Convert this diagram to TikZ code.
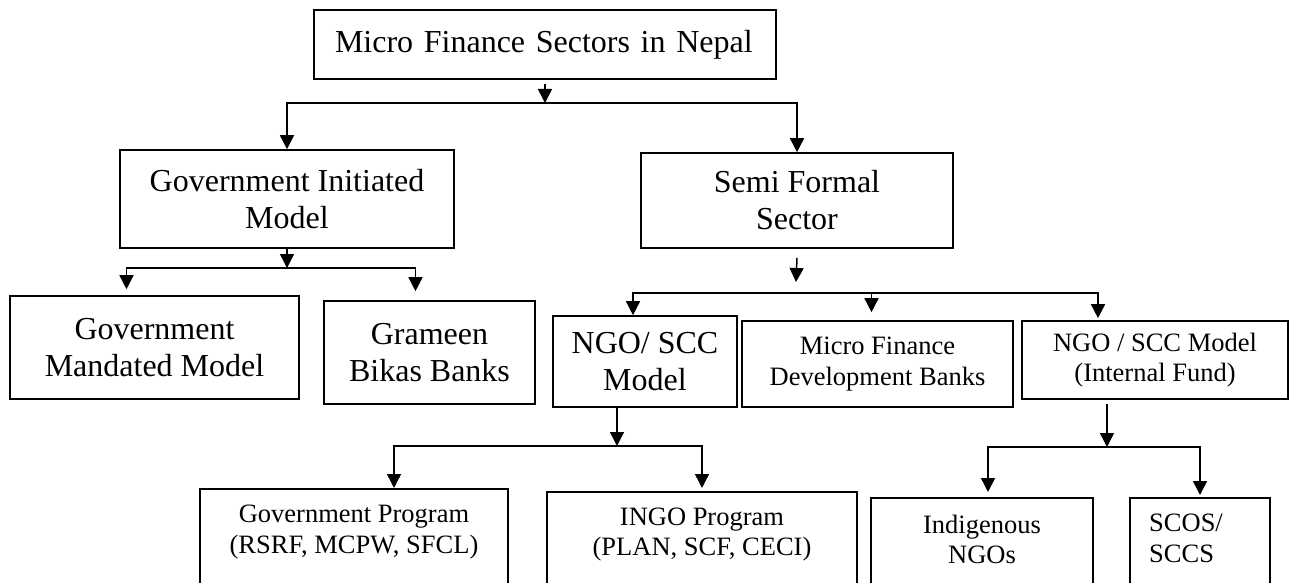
\documentclass[tikz,border=0pt]{standalone}
\usepackage{fontspec}
\setmainfont{Liberation Serif}
\usetikzlibrary{arrows.meta,positioning}

\begin{document}
\begin{tikzpicture}[x=1pt, y=-1pt,
  bx/.style={draw, line width=1.6pt, fill=white, align=center, inner sep=0pt, font=\fontsize{32}{37}\selectfont},
  sbx/.style={bx, font=\fontsize{26.5}{30.5}\selectfont},
  obx/.style={draw, line width=1.6pt, anchor=north, minimum height=120pt, inner sep=0pt},
  txt/.style={align=center, inner sep=0pt, font=\fontsize{26.5}{30.5}\selectfont},
  arr/.style={-{Triangle[length=14pt,width=14pt]}, line width=1.5pt}
]
\useasboundingbox (0,0) rectangle (1294,583);
\clip (0,0) rectangle (1294,583);

% top and first split
\node[bx, align=left, text width=420pt, inner xsep=21pt, minimum height=69pt] (top) at (545,44.5) {Micro Finance Sectors in Nepal};
\node[bx, minimum width=334pt, minimum height=98pt] (gim) at (287,199) {Government Initiated\\Model};
\node[bx, minimum width=312pt, minimum height=95pt] (sfs) at (797,200.5) {Semi Formal\\Sector};

% second row
\node[bx, minimum width=289pt, minimum height=103pt] (gmm) at (154.5,347.5) {Government\\Mandated Model};
\node[bx, minimum width=211pt, minimum height=103pt] (gbb) at (429.5,352.5) {Grameen\\Bikas Banks};
\node[bx, minimum width=184pt, minimum height=91pt] (ngo) at (645,361.5) {NGO/ SCC\\Model};
\node[sbx, minimum width=271pt, minimum height=86pt] (mfd) at (877.5,364) {Micro Finance\\Development Banks};
\node[sbx, minimum width=266pt, minimum height=78pt] (nif) at (1155,360) {NGO / SCC Model\\(Internal Fund)};

% bottom row, cut by the page edge
\node[obx, minimum width=308pt] (gpr) at (354,488) {};
\node[obx, minimum width=310pt] (igp) at (702,491) {};
\node[obx, minimum width=222pt] (ind) at (982,497) {};
\node[obx, minimum width=140pt] (scs) at (1200,497) {};
\node[txt, below=17pt of gpr.north] (gprtxt) {Government Program\\(RSRF, MCPW, SFCL)};
\node[txt, below=16.5pt of igp.north] (igptxt) {INGO Program\\(PLAN, SCF, CECI)};
\node[txt, below=17.5pt of ind.north] (indtxt) {Indigenous\\NGOs};
\node[txt, align=left, anchor=north west] (scstxt) at (1149,514) {SCOS/\\SCCS};

% junctions
\coordinate (j1) at (545,103);
\coordinate (j2) at (287,268);
\coordinate (j3) at (796,293);
\coordinate (j4) at (617,446);
\coordinate (j5) at (1107,447);

\draw[arr] ([yshift=-4pt]top.south) -- (j1);
\draw[arr] (j1) -| (gim.north);
\draw[arr] (j1) -| (sfs.north);

\draw[arr] (gim.south) -- (j2);
\draw[arr] (j2) -| ([xshift=-28pt,yshift=6pt]gmm.north);
\draw[arr] (j2) -| ([xshift=-14pt,yshift=9pt]gbb.north);

\draw[arr] ([yshift=-9pt]sfs.south) -- ([yshift=11pt]j3);
\draw[arr] (j3) -| ([xshift=-12pt]ngo.north);
\draw[arr] (j3) -| ([xshift=-6pt,yshift=8pt]mfd.north);
\draw[arr] (j3) -| ([xshift=-57pt,yshift=2pt]nif.north);

\draw[arr] ([xshift=-28pt]ngo.south) -- (j4);
\draw[arr] (j4) -| ([xshift=40pt]gpr.north);
\draw[arr] (j4) -| ([yshift=3pt]igp.north);

\draw[arr] ([xshift=-48pt,yshift=-4pt]nif.south) -- (j5);
\draw[arr] (j5) -| ([xshift=6pt,yshift=5pt]ind.north);
\draw[arr] (j5) -| ([yshift=2pt]scs.north);
\end{tikzpicture}
\end{document}
